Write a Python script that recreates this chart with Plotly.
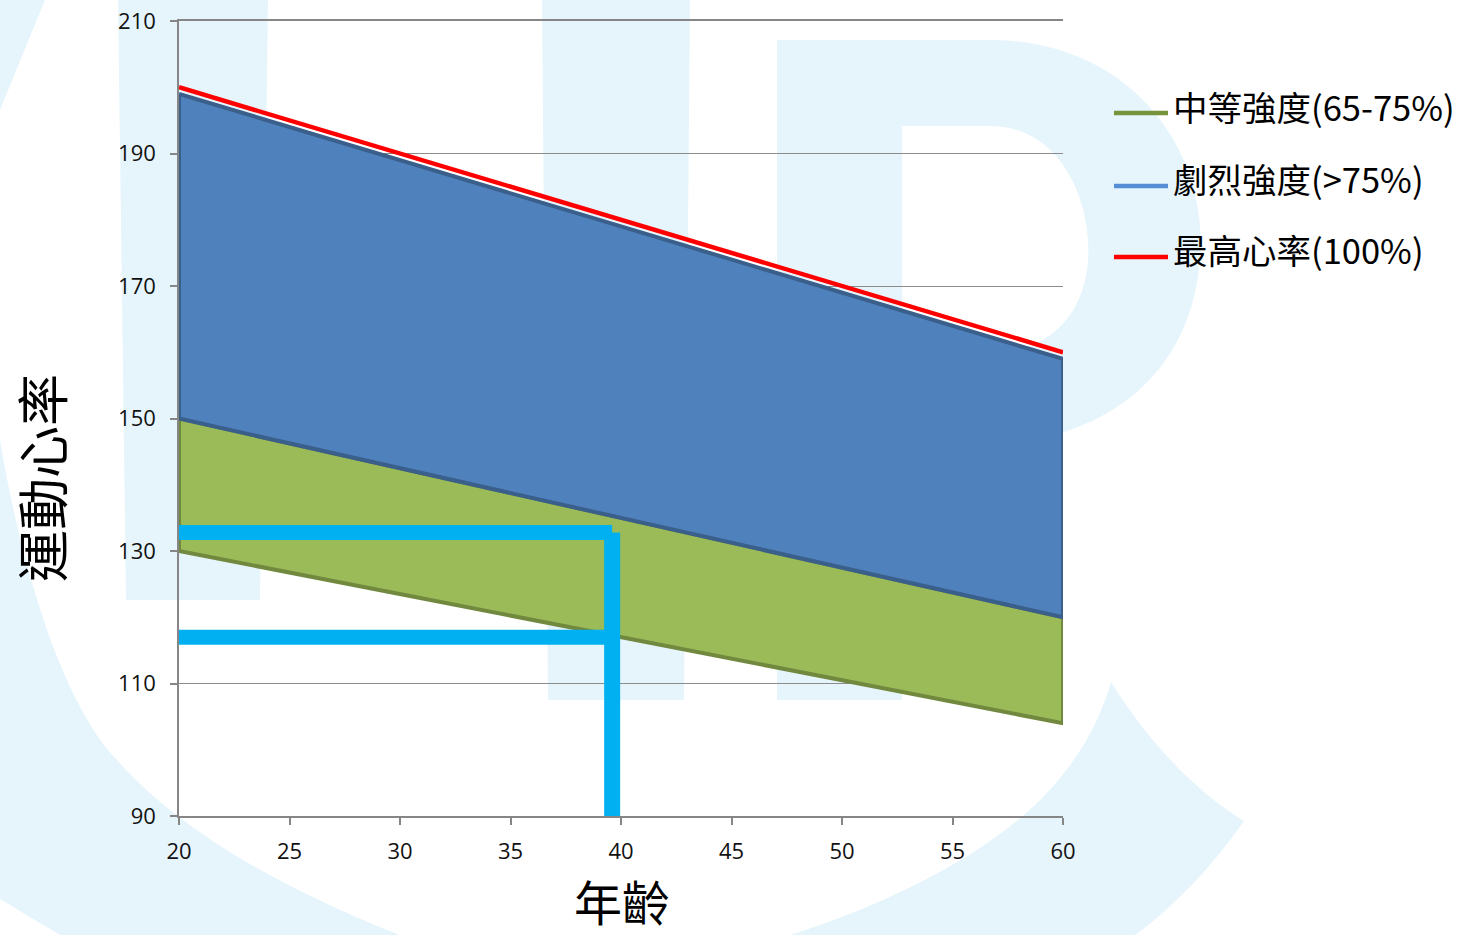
import plotly.graph_objects as go

# ---------------- data ----------------
ages = [20, 60]
max_hr = [200, 160]                 # 最高心率(100%)
vigorous_top = [199, 159]           # 劇烈強度 upper edge
vigorous_bottom = [150, 120]        # 劇烈強度 lower edge (75%)
moderate_top = [150, 120]           # 中等強度 upper edge (75%)
moderate_bottom = [130, 104]        # 中等強度 lower edge (65%)

marker_age = [19.8, 39.6]           # horizontal guide lines span
guide_upper_hr = [132.8, 132.8]
guide_lower_hr = [117, 117]
guide_v_age = [39.6, 39.6]
guide_v_hr = [89.8, 132.8]

x_ticks = [20, 25, 30, 35, 40, 45, 50, 55, 60]
y_ticks = [90, 110, 130, 150, 170, 190, 210]

series_names = ["中等強度(65-75%)", "劇烈強度(>75%)", "最高心率(100%)"]
series_colors = ["#77933c", "#558ed5", "#ff0000"]

# ---------------- layout geometry ----------------
W, H = 1460, 935
ML, MR, MT, MB = 179, 397, 21, 119
PW, PH = W - ML - MR, H - MT - MB


def px(x):
    return (x - ML) / PW


def py(y):
    return (H - MB - y) / PH


def path(cmds):
    out = []
    for c in cmds:
        op = c[0]
        pts = c[1:]
        s = op + " " + " ".join(f"{px(a):.5f},{py(b):.5f}" for a, b in pts)
        out.append(s)
    return " ".join(out) + " Z"


WM = "rgb(230,245,252)"
watermark = [
    path([("M", (0, 0)), ("L", (45, 0)), ("L", (0, 110))]),
    path([("M", (118, 0)), ("L", (268, 0)), ("L", (260, 600)), ("L", (126, 600))]),
    path([("M", (542, 0)), ("L", (690, 0)), ("L", (684, 700)), ("L", (548, 700))]),
    path([("M", (777, 40)), ("L", (902, 40)), ("L", (902, 700)), ("L", (777, 700))]),
    path([("M", (900, 40)), ("L", (990, 40)),
          ("C", (1130, 40), (1210, 150), (1200, 260)),
          ("C", (1190, 380), (1100, 440), (990, 445)), ("L", (900, 445))]),
    path([("M", (0, 440)), ("C", (20, 560), (60, 700), (117, 760)),
          ("C", (170, 820), (260, 880), (400, 935)), ("L", (60, 935)), ("L", (0, 899))]),
    path([("M", (1111, 682)), ("C", (1160, 760), (1210, 800), (1244, 821)),
          ("C", (1210, 870), (1170, 910), (1135, 935)), ("L", (790, 935)),
          ("C", (900, 900), (990, 850), (1040, 800)), ("C", (1080, 760), (1100, 720), (1111, 682))]),
]
counter = path([("M", (902, 126)), ("L", (990, 126)),
                ("C", (1060, 126), (1092, 200), (1088, 262)),
                ("C", (1082, 325), (1040, 352), (990, 354)), ("L", (902, 354))])

shapes = []
for p in watermark:
    shapes.append(dict(type="path", path=p, xref="paper", yref="paper",
                       fillcolor=WM, line=dict(width=0), layer="below"))
shapes.append(dict(type="path", path=counter, xref="paper", yref="paper",
                   fillcolor="white", line=dict(width=0), layer="below"))

fig = go.Figure()

# moderate zone (green)
fig.add_trace(go.Scatter(
    x=ages + ages[::-1] + [ages[0]],
    y=moderate_top + moderate_bottom[::-1] + [moderate_top[0]],
    fill="toself", fillcolor="#9bbb59", mode="lines",
    line=dict(color="#71893f", width=4), name=series_names[0], showlegend=False,
    hoverinfo="skip"))

# vigorous zone (blue)
fig.add_trace(go.Scatter(
    x=ages + ages[::-1] + [ages[0]],
    y=vigorous_top + vigorous_bottom[::-1] + [vigorous_top[0]],
    fill="toself", fillcolor="#4f81bd", mode="lines",
    line=dict(color="#3a5f8b", width=4), name=series_names[1], showlegend=False,
    hoverinfo="skip"))

# max heart rate (red)
fig.add_trace(go.Scatter(
    x=ages, y=max_hr, mode="lines", line=dict(color="#ff0000", width=4.5),
    name=series_names[2], showlegend=False))

# cyan guide lines
cyan = "#00b0f0"
fig.add_trace(go.Scatter(x=marker_age, y=guide_upper_hr, mode="lines",
                         line=dict(color=cyan, width=15), showlegend=False))
fig.add_trace(go.Scatter(x=marker_age, y=guide_lower_hr, mode="lines",
                         line=dict(color=cyan, width=15), showlegend=False))
fig.add_trace(go.Scatter(x=guide_v_age, y=guide_v_hr, mode="lines",
                         line=dict(color=cyan, width=16), showlegend=False))

# manual legend
legend_rows_y = [113, 186, 257]
text_rows_y = [106, 178, 249]
annotations = []
for name, col, ly, ty in zip(series_names, series_colors, legend_rows_y, text_rows_y):
    shapes.append(dict(type="line", xref="paper", yref="paper",
                       x0=px(1114), x1=px(1168), y0=py(ly), y1=py(ly),
                       line=dict(color=col, width=4.5)))
    annotations.append(dict(text=name, xref="paper", yref="paper",
                            x=px(1171), y=py(ty), xanchor="left", yanchor="middle",
                            showarrow=False,
                            font=dict(family="Noto Sans CJK TC", size=34.5, color="#000000")))

# axis titles
annotations.append(dict(text="運動心率", xref="paper", yref="paper", x=px(40), y=py(478),
                        xanchor="center", yanchor="middle", textangle=-90, showarrow=False,
                        font=dict(family="Noto Sans CJK TC", size=52, color="#000000")))
annotations.append(dict(text="年齡", xref="paper", yref="paper", x=px(622), y=py(900),
                        xanchor="center", yanchor="middle", showarrow=False,
                        height=52, valign="middle",
                        font=dict(family="Noto Sans CJK TC", size=48, color="#000000")))

axis_font = dict(family="Open Sans", size=22, color="#111111")
fig.update_layout(
    width=W, height=H, autosize=False,
    margin=dict(l=ML, r=MR, t=MT, b=MB, pad=0, autoexpand=False),
    paper_bgcolor="white", plot_bgcolor="rgba(0,0,0,0)",
    shapes=shapes, annotations=annotations, showlegend=False,
    xaxis=dict(range=[20, 60], tickvals=x_ticks, ticktext=[str(v) for v in x_ticks],
               showgrid=False, zeroline=False, showline=True, linecolor="#868686",
               linewidth=1.5, mirror=True, ticks="outside", ticklen=7, tickcolor="#868686",
               tickwidth=1.5, tickfont=axis_font, automargin=False,
               ticklabelstandoff=8),
    yaxis=dict(range=[90, 210], tickvals=y_ticks, ticktext=[str(v) for v in y_ticks],
               showgrid=True, gridcolor="#8c8c8c", gridwidth=1.3, zeroline=False,
               showline=True, linecolor="#868686", linewidth=1.5, ticks="outside",
               ticklen=7, tickcolor="#868686", tickwidth=1.5, tickfont=axis_font,
               automargin=False, ticklabelstandoff=10),
)

fig.write_html("out.html")
